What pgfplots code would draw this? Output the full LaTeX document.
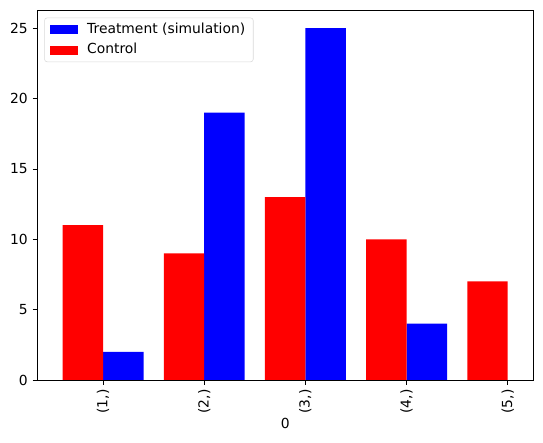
\documentclass[border=0pt]{standalone}
\usepackage{fontspec}
\setmainfont{DejaVu Sans}
\usepackage{pgfplots}
\pgfplotsset{compat=1.18}
\usetikzlibrary{calc}

\begin{document}
\begin{tikzpicture}
\begin{axis}[
    scale only axis,
    width=371.8pt, height=277pt,
    xmin=-0.65, xmax=4.25,
    ymin=0, ymax=26.25,
    ybar, bar width=0.4,
    xtick={0,1,2,3,4},
    xticklabels={(1,),(2,),(3,),(4,),(5,)},
    xticklabel style={rotate=90, anchor=east},
    ytick={0,5,10,15,20,25},
    tick align=outside,
    tick pos=left,
    major tick length=3.6pt,
    tick style={black, line width=0.6pt},
    axis line style={line width=0.6pt},
    /pgf/number format/assume math mode=true,
    ticklabel style={font=\fontsize{10.4}{12}\selectfont},
    xlabel={0},
    xlabel style={font=\fontsize{10.4}{12}\selectfont, yshift=3pt},
    legend style={at={(0,1)}, anchor=north west, xshift=5.2pt, yshift=-5.2pt,
        draw=black!15, rounded corners=2pt, fill=white,
        font=\fontsize{10.4}{12}\selectfont,
        nodes={text height=8pt, text depth=2.5pt, sharp corners},
        row sep=1pt, column sep=5pt, inner xsep=4pt, inner ysep=1.5pt},
    legend cell align=left,
    legend image code/.code={\fill[#1, sharp corners] (0pt,-3.5pt) rectangle (21pt,3.5pt);},
  ]
  % treatment
  \addplot[fill=blue, draw=none, bar shift=0.2] coordinates {
    (0,2) (1,19) (2,25) (3,4)
  };
  % control
  \addplot[fill=red, draw=none, bar shift=-0.2] coordinates {
    (0,11) (1,9) (2,13) (3,10) (4,7)
  };
  \legend{Treatment (simulation), Control}
\end{axis}
\pgfresetboundingbox
\path ($(current axis.south west)+(-28pt,-47.25pt)$) rectangle ($(current axis.north east)+(7.5pt,8pt)$);
\end{tikzpicture}
\end{document}
